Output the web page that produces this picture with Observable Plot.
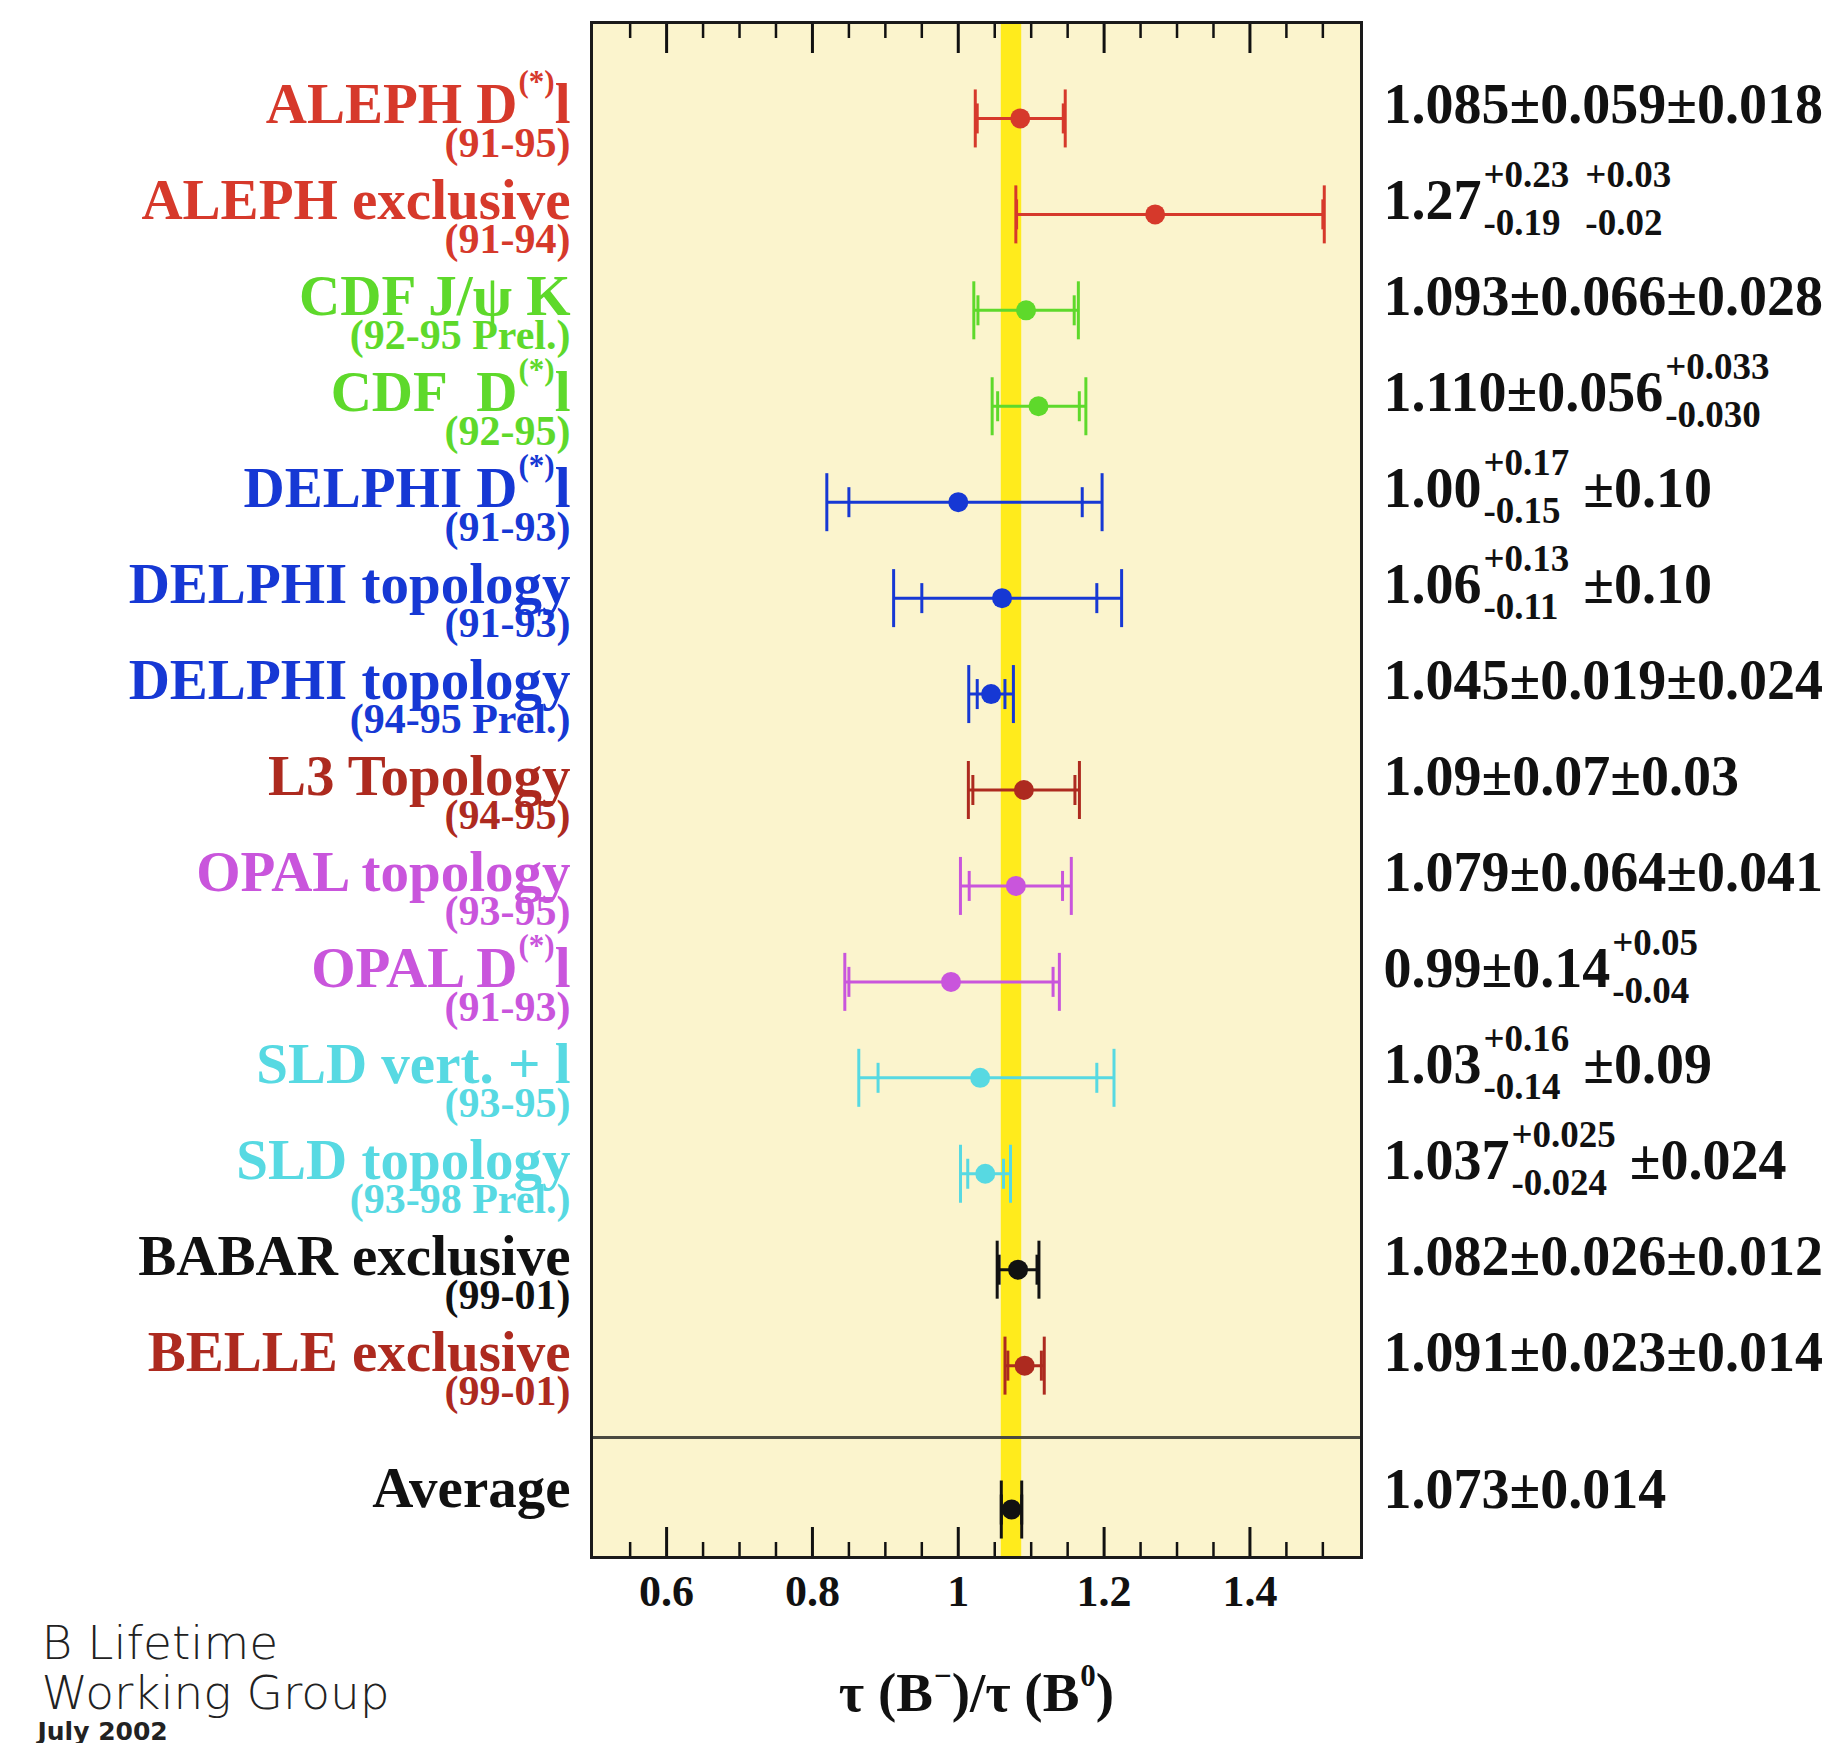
<!DOCTYPE html>
<html>
<head>
<meta charset="utf-8">
<script src="https://cdn.jsdelivr.net/npm/d3@7"></script>
<script src="https://cdn.jsdelivr.net/npm/@observablehq/plot@0.6"></script>
<style>
  html, body { margin: 0; padding: 0; background: #ffffff; }
  #chart svg { display: block; }
</style>
</head>
<body>
<div id="chart"></div>
<script>
// ---------------- data ----------------
const names = [
  "ALEPH D^{(*)}l", "ALEPH exclusive", "CDF J/ψ K", "CDF\u00a0 D^{(*)}l",
  "DELPHI D^{(*)}l", "DELPHI topology", "DELPHI topology", "L3 Topology",
  "OPAL topology", "OPAL D^{(*)}l", "SLD vert. + l", "SLD topology",
  "BABAR exclusive", "BELLE exclusive"
];
const periods = [
  "(91-95)", "(91-94)", "(92-95 Prel.)", "(92-95)",
  "(91-93)", "(91-93)", "(94-95 Prel.)", "(94-95)",
  "(93-95)", "(91-93)", "(93-95)", "(93-98 Prel.)",
  "(99-01)", "(99-01)"
];
const values    = [1.085, 1.27, 1.093, 1.110, 1.00, 1.06, 1.045, 1.09, 1.079, 0.99, 1.03, 1.037, 1.082, 1.091];
const statPlus  = [0.059, 0.23, 0.066, 0.056, 0.17, 0.13, 0.019, 0.07, 0.064, 0.14, 0.16, 0.025, 0.026, 0.023];
const statMinus = [0.059, 0.19, 0.066, 0.056, 0.15, 0.11, 0.019, 0.07, 0.064, 0.14, 0.14, 0.024, 0.026, 0.023];
const systPlus  = [0.018, 0.03, 0.028, 0.033, 0.10, 0.10, 0.024, 0.03, 0.041, 0.05, 0.09, 0.024, 0.012, 0.014];
const systMinus = [0.018, 0.02, 0.028, 0.030, 0.10, 0.10, 0.024, 0.03, 0.041, 0.04, 0.09, 0.024, 0.012, 0.014];
const valueLabels = [
  "1.085±0.059±0.018",
  "1.27^{+0.23}_{-0.19} ^{+0.03}_{-0.02}",
  "1.093±0.066±0.028",
  "1.110±0.056^{+0.033}_{-0.030}",
  "1.00^{+0.17}_{-0.15} ±0.10",
  "1.06^{+0.13}_{-0.11} ±0.10",
  "1.045±0.019±0.024",
  "1.09±0.07±0.03",
  "1.079±0.064±0.041",
  "0.99±0.14^{+0.05}_{-0.04}",
  "1.03^{+0.16}_{-0.14} ±0.09",
  "1.037^{+0.025}_{-0.024} ±0.024",
  "1.082±0.026±0.012",
  "1.091±0.023±0.014"
];
const experimentColors = [
  "#d6392b", "#d6392b", "#5ed92b", "#5ed92b",
  "#1638d4", "#1638d4", "#1638d4", "#ad2a1f",
  "#c955dc", "#c955dc", "#57d9e2", "#57d9e2",
  "#111111", "#ad2a1f"
];
const averageName = "Average";
const averageValue = 1.073;
const averageError = 0.014;
const averageLabel = "1.073±0.014";
const averageColor = "#111111";

const majorTicks = [0.6, 0.8, 1, 1.2, 1.4];
const majorTickLabels = ["0.6", "0.8", "1", "1.2", "1.4"];
const minorTicks = [0.55, 0.65, 0.7, 0.75, 0.85, 0.9, 0.95, 1.05, 1.1, 1.15, 1.25, 1.3, 1.35, 1.45, 1.5];
const xTitle = "τ (B^{−})/τ (B^{0})";
const creditLines = ["B Lifetime", "Working Group"];
const creditDate = "July 2002";

// ---------------- derived table ----------------
const rows = names.map((name, i) => ({
  name,
  period: periods[i],
  y: i,
  value: values[i],
  loStat: values[i] - statMinus[i],
  hiStat: values[i] + statPlus[i],
  lo: values[i] - Math.hypot(statMinus[i], systMinus[i]),
  hi: values[i] + Math.hypot(statPlus[i], systPlus[i]),
  color: experimentColors[i],
  label: valueLabels[i]
}));
const avgY = rows.length + 0.5;
const average = [{
  name: averageName, y: avgY, value: averageValue,
  loStat: averageValue - averageError, hiStat: averageValue + averageError,
  lo: averageValue - averageError, hi: averageValue + averageError,
  color: averageColor, label: averageLabel
}];
const separator = [(rows.length - 1 + avgY) / 2];
const points = rows.concat(average);
const tickLabelOf = new Map(majorTicks.map((t, i) => [t, majorTickLabels[i]]));

// vertical bar symbol for error-bar caps (half-length = r)
const vbar = {
  draw(context, size) {
    const h = Math.sqrt(size / Math.PI);
    context.moveTo(0, -h);
    context.lineTo(0, h);
  }
};

const serif = "'Liberation Serif', 'Times New Roman', serif";
const sans = "'DejaVu Sans', sans-serif";

const plot = Plot.plot({
  width: 1834,
  height: 1743,
  marginLeft: 591,
  marginRight: 473,
  marginTop: 22,
  marginBottom: 186,
  style: { fontFamily: serif, background: "#ffffff", overflow: "visible" },
  x: { domain: [0.497, 1.553] },
  y: { domain: [-1, 15], reverse: true, axis: null },
  color: { type: "identity" },
  marks: [
    Plot.frame({ fill: "#fbf4cd", stroke: "none" }),
    Plot.rect(average, { x1: "lo", x2: "hi", fill: "#ffeb1c" }),
    Plot.ruleY(separator, { stroke: "#4a4a40", strokeWidth: 3 }),
    // error bars
    Plot.ruleY(points, { y: "y", x1: "lo", x2: "hi", stroke: "color", strokeWidth: 3 }),
    Plot.dot(points, { x: "lo", y: "y", symbol: vbar, r: 29, stroke: "color", fill: "none", strokeWidth: 3 }),
    Plot.dot(points, { x: "hi", y: "y", symbol: vbar, r: 29, stroke: "color", fill: "none", strokeWidth: 3 }),
    Plot.dot(points, { x: "loStat", y: "y", symbol: vbar, r: 15, stroke: "color", fill: "none", strokeWidth: 3 }),
    Plot.dot(points, { x: "hiStat", y: "y", symbol: vbar, r: 15, stroke: "color", fill: "none", strokeWidth: 3 }),
    Plot.dot(points, { x: "value", y: "y", r: 10, fill: "color", stroke: "none" }),
    // inward ticks (top & bottom)
    Plot.axisX(majorTicks, { anchor: "bottom", tickSize: -30, strokeWidth: 3, stroke: "#111", tickFormat: () => "", label: null }),
    Plot.axisX(minorTicks, { anchor: "bottom", tickSize: -15, strokeWidth: 2.5, stroke: "#111", tickFormat: () => "", label: null }),
    Plot.axisX(majorTicks, { anchor: "top", tickSize: -30, strokeWidth: 3, stroke: "#111", tickFormat: () => "", label: null }),
    Plot.axisX(minorTicks, { anchor: "top", tickSize: -15, strokeWidth: 2.5, stroke: "#111", tickFormat: () => "", label: null }),
    Plot.axisX(majorTicks, { anchor: "bottom", tickSize: 0, tickPadding: 17, tickFormat: (d) => tickLabelOf.get(d),
      fontSize: 44, fontWeight: "bold", fontFamily: serif, fill: "#111", label: null }),
    Plot.frame({ stroke: "#1a1a1a", strokeWidth: 3 }),
    // left labels
    Plot.text(rows, { y: "y", text: "name", frameAnchor: "left", dx: -21, dy: 5, textAnchor: "end", lineAnchor: "bottom",
      fill: "color", fontSize: 57, fontWeight: "bold", fontFamily: serif, ariaDescription: "rich-name" }),
    Plot.text(rows, { y: "y", text: "period", frameAnchor: "left", dx: -21, dy: 39, textAnchor: "end", lineAnchor: "bottom",
      fill: "color", fontSize: 42, fontWeight: "bold", fontFamily: serif }),
    Plot.text(average, { y: "y", text: "name", frameAnchor: "left", dx: -21, dy: -3, textAnchor: "end", lineAnchor: "bottom",
      fill: "color", fontSize: 57, fontWeight: "bold", fontFamily: serif }),
    // right value labels
    Plot.text(rows, { y: "y", text: "label", frameAnchor: "right", dx: 22, dy: 5, textAnchor: "start", lineAnchor: "bottom",
      fill: "#111", fontSize: 56, fontWeight: "bold", fontFamily: serif, ariaDescription: "rich-value" }),
    Plot.text(average, { y: "y", text: "label", frameAnchor: "right", dx: 22, dy: -2, textAnchor: "start", lineAnchor: "bottom",
      fill: "#111", fontSize: 56, fontWeight: "bold", fontFamily: serif }),
    // axis title
    Plot.text([xTitle], { frameAnchor: "bottom", dy: 153, textAnchor: "middle", lineAnchor: "bottom",
      fill: "#111", fontSize: 55, fontWeight: "bold", fontFamily: serif, ariaDescription: "rich-title" }),
    // credits
    Plot.text([creditLines.join("\n")], { frameAnchor: "bottom-left", dx: -550, dy: 151, textAnchor: "start", lineAnchor: "bottom",
      lineHeight: 1.06, fill: "#222", fontSize: 47, fontFamily: sans, fontWeight: 300 }),
    Plot.text([creditDate], { frameAnchor: "bottom-left", dx: -554, dy: 182, textAnchor: "start", lineAnchor: "bottom",
      fill: "#222", fontSize: 25, fontFamily: sans, fontWeight: "bold" })
  ]
});

document.getElementById("chart").append(plot);

// ---------------- rich text (superscripts / stacked scripts) ----------------
const NS = "http://www.w3.org/2000/svg";
const TOKEN = /\^\{([^}]*)\}(?:_\{([^}]*)\})?|_\{([^}]*)\}|([^^_]+)/g;
function richify(textEl, { size, up, down, weight, gap }) {
  const src = textEl.textContent;
  if (!/[\^_]\{/.test(src)) return;
  textEl.textContent = "";
  let offset = 0;      // current baseline offset, positive = down
  let pendingDx = 0;
  function add(str, small, dy, dx) {
    const ts = document.createElementNS(NS, "tspan");
    ts.textContent = str;
    if (small) {
      ts.setAttribute("font-size", size);
      if (weight) ts.setAttribute("font-weight", weight);
    }
    if (dy) ts.setAttribute("dy", dy);
    const tdx = (dx || 0) + pendingDx;
    pendingDx = 0;
    if (tdx) ts.setAttribute("dx", tdx);
    textEl.append(ts);
    return ts;
  }
  for (const m of src.matchAll(TOKEN)) {
    if (m[4] != null) {
      add(m[4], false, -offset);
      offset = 0;
    } else if (m[1] != null) {
      const sup = add(m[1], true, -up - offset, gap || 0);
      offset = -up;
      if (m[2] != null) {
        const w1 = sup.getComputedTextLength();
        const sub = add(m[2], true, down - offset, -w1);
        offset = down;
        const w2 = sub.getComputedTextLength();
        if (w1 > w2) pendingDx = w1 - w2;
      }
    } else if (m[3] != null) {
      add(m[3], true, down - offset, gap || 0);
      offset = down;
    }
  }
}
const richStyles = {
  "rich-name": { size: 31, up: 31, down: 12, weight: "bold", gap: 1 },
  "rich-value": { size: 37, up: 32, down: 16, weight: "bold", gap: 2 },
  "rich-title": { size: 31, up: 25, down: 10, weight: "bold", gap: 1 }
};
for (const [label, style] of Object.entries(richStyles)) {
  plot.querySelectorAll(`g[aria-description="${label}"] text`).forEach((t) => richify(t, style));
}
</script>
</body>
</html>
